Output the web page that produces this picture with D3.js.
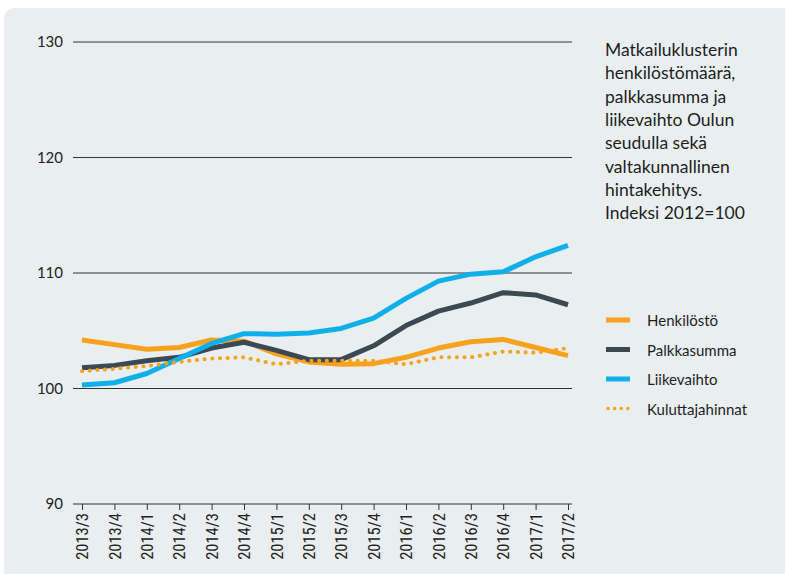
<!DOCTYPE html>
<html>
<head>
<meta charset="utf-8">
<script src="https://cdn.jsdelivr.net/npm/d3@7"></script>
<style>
  body { margin: 0; background: #fff; }
  svg { display: block; }
</style>
</head>
<body>
<div id="chart"></div>
<script>
// neljännekset
var quarters = ["2013/3","2013/4","2014/1","2014/2","2014/3","2014/4","2015/1","2015/2",
                "2015/3","2015/4","2016/1","2016/2","2016/3","2016/4","2017/1","2017/2"];
var henkilosto     = [104.2,103.8,103.4,103.55,104.2,104.1,103.0,102.3,102.1,102.15,102.7,103.5,104.05,104.25,103.55,102.85];
var palkkasumma    = [101.8,102.0,102.4,102.7,103.5,104.0,103.3,102.5,102.5,103.7,105.45,106.7,107.4,108.3,108.1,107.25];
var liikevaihto    = [100.3,100.5,101.3,102.6,103.9,104.75,104.7,104.8,105.2,106.1,107.8,109.3,109.9,110.1,111.4,112.4];
var kuluttajahinnat= [101.5,101.7,101.95,102.3,102.6,102.7,102.1,102.4,102.4,102.4,102.1,102.7,102.7,103.2,103.1,103.5];
var yTicks = [90, 100, 110, 120, 130];
var titleLines = ["Matkailuklusterin","henkilöstömäärä,","palkkasumma ja","liikevaihto Oulun",
                  "seudulla sekä","valtakunnallinen","hintakehitys.","Indeksi 2012=100"];

var series = [
  {name: "Henkilöstö", values: henkilosto, color: "#f7a11d", dash: null},
  {name: "Palkkasumma", values: palkkasumma, color: "#3a4a54", dash: null},
  {name: "Liikevaihto", values: liikevaihto, color: "#0fb0ea", dash: null},
  {name: "Kuluttajahinnat", values: kuluttajahinnat, color: "#f7a11d", dash: "0.1 7.6"}
];

var W = 785, H = 574;
var svg = d3.select("#chart").append("svg").attr("width", W).attr("height", H);

// taustapaneeli
svg.append("rect").attr("x", 4).attr("y", 8).attr("width", W + 20).attr("height", H + 20)
  .attr("rx", 10).attr("fill", "#e9eef1");

var x = d3.scalePoint().domain(quarters).range([82, 568]);
var y = d3.scaleLinear().domain([90, 130]).range([504, 42]);

var gridL = 73, gridR = 572;
var font = "Lato, 'Open Sans', sans-serif";

// vaakaviivat
svg.append("g").selectAll("line").data(yTicks).enter().append("line")
  .attr("x1", gridL).attr("x2", gridR)
  .attr("y1", d => y(d)).attr("y2", d => y(d))
  .attr("stroke", "#333").attr("stroke-width", 1);

svg.append("g").selectAll("text").data(yTicks).enter().append("text")
  .attr("x", 63).attr("y", d => y(d) + 5)
  .attr("text-anchor", "end")
  .attr("font-family", font).attr("font-size", 15).attr("fill", "#222")
  .text(d => d);

// x-akseli
var xAxis = svg.append("g").attr("transform", "translate(0," + y(90) + ")")
  .call(d3.axisBottom(x).tickSize(6).tickSizeOuter(0).tickPadding(5));
xAxis.select(".domain").remove();
xAxis.selectAll("line").attr("stroke", "#333");
xAxis.selectAll("text")
  .attr("transform", "rotate(-90)")
  .attr("text-anchor", "end")
  .attr("x", -9).attr("y", 0).attr("dy", "0.35em")
  .attr("font-family", "'Liberation Sans Narrow', 'Roboto Condensed', 'DejaVu Sans Condensed', sans-serif")
  .attr("font-size", 16.5).attr("fill", "#222");

// viivat
var line = d3.line().x((d, i) => x(quarters[i])).y(d => y(d));
svg.append("g").selectAll("path").data(series).enter().append("path")
  .attr("d", d => line(d.values))
  .attr("fill", "none")
  .attr("stroke", d => d.color)
  .attr("stroke-width", d => d.dash ? 4 : 5)
  .attr("stroke-linecap", d => d.dash ? "round" : "butt")
  .attr("stroke-linejoin", "round")
  .attr("stroke-dasharray", d => d.dash);

// otsikko
svg.append("text")
  .attr("font-family", font).attr("font-size", 17.5).attr("fill", "#1e1e1e")
  .selectAll("tspan").data(titleLines).enter().append("tspan")
  .attr("x", 605).attr("y", (d, i) => 56 + i * 23.3)
  .text(d => d);

// selite
var legend = svg.append("g").selectAll("g").data(series).enter().append("g")
  .attr("transform", (d, i) => "translate(606," + (320 + i * 29.5) + ")");
legend.append("line")
  .attr("x1", d => d.dash ? 2 : 0).attr("x2", 24)
  .attr("stroke", d => d.color)
  .attr("stroke-width", d => d.dash ? 3.5 : 5)
  .attr("stroke-linecap", d => d.dash ? "round" : "butt")
  .attr("stroke-dasharray", d => d.dash ? "0.1 6.5" : null);
legend.append("text")
  .attr("x", 41).attr("y", 6)
  .attr("font-family", font).attr("font-size", 15).attr("fill", "#1e1e1e")
  .text(d => d.name);
</script>
</body>
</html>
